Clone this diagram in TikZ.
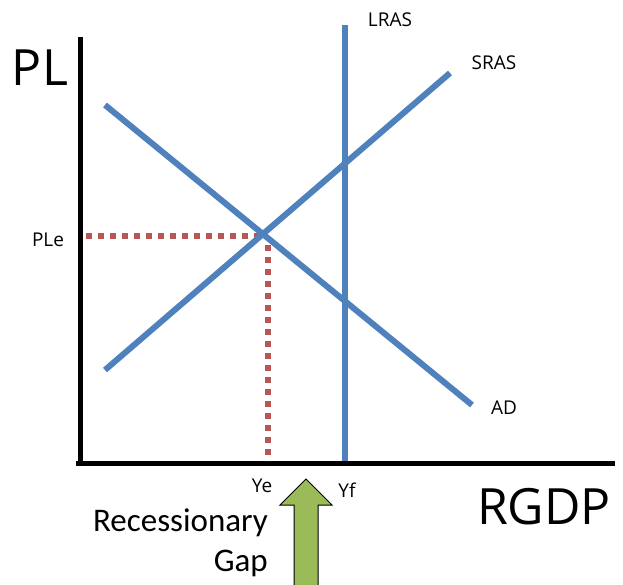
\documentclass[tikz,border=0pt]{standalone}
\usepackage{fontspec}
\setmainfont{Carlito}
\newfontfamily\lblfont{Open Sans}
\definecolor{curveblue}{RGB}{79,129,189}
\definecolor{dotred}{RGB}{185,85,85}
\definecolor{gapgreen}{RGB}{155,187,89}
\begin{document}
\begin{tikzpicture}[x=1pt,y=-1pt,
  curve/.style={draw=curveblue,line width=6pt},
  axis/.style={draw=black,line width=5pt},
  guide/.style={draw=dotred,line width=6pt,dash pattern=on 6pt off 6pt},
  biglbl/.style={font=\lblfont\fontsize{50}{50}\selectfont,inner sep=0pt},
  smalllbl/.style={font=\lblfont\fontsize{19}{20}\selectfont,inner sep=0pt},
  gaptext/.style={font=\fontsize{33}{40}\selectfont,inner sep=0pt,align=right}]
\useasboundingbox[fill=white] (0,0) rectangle (623,585);
% axes
\coordinate (ytop) at (80,37);
\coordinate (origin) at (80,463);
\coordinate (xend) at (615,463);
\draw[axis] (ytop) -- (origin);
\draw[axis] (76,463) -- (xend);
% guides
\coordinate (eq) at (264,236);
\coordinate (ple) at (86,236);
\coordinate (ye) at (268,461);
\draw[guide] (ple) -- (eq);
\draw[guide] (268,245) -- (ye);
% curves
\coordinate (lrasT) at (345,25);
\coordinate (lrasB) at (345,461);
\coordinate (srasL) at (105,370);
\coordinate (srasR) at (450,73);
\coordinate (adL) at (105,105);
\coordinate (adR) at (472,405);
\draw[curve] (lrasT) -- (lrasB);
\draw[curve] (srasL) -- (srasR);
\draw[curve] (adL) -- (adR);
% labels
\node[biglbl] (pl) at (40,68) {PL};
\node[smalllbl] (plelbl) at (48,240) {PLe};
\node[smalllbl] (lras) at (390,20) {LRAS};
\node[smalllbl] (sras) at (494,63) {SRAS};
\node[smalllbl] (ad) at (504,408) {AD};
\node[smalllbl] (yelbl) at (262,486) {Ye};
\node[smalllbl] (yflbl) at (347,490) {Yf};
\node[biglbl] (rgdp) at (544,507) {RGDP};
\node[gaptext,anchor=east] (gap) at (268,543) {Recessionary\\Gap};
% arrow
\draw[fill=gapgreen,draw=black,line width=1pt,line join=miter]
  (294,590) -- (294,505) -- (280,505) -- (306,479) -- (332,505) -- (318,505) -- (318,590) -- cycle;
\end{tikzpicture}
\end{document}
